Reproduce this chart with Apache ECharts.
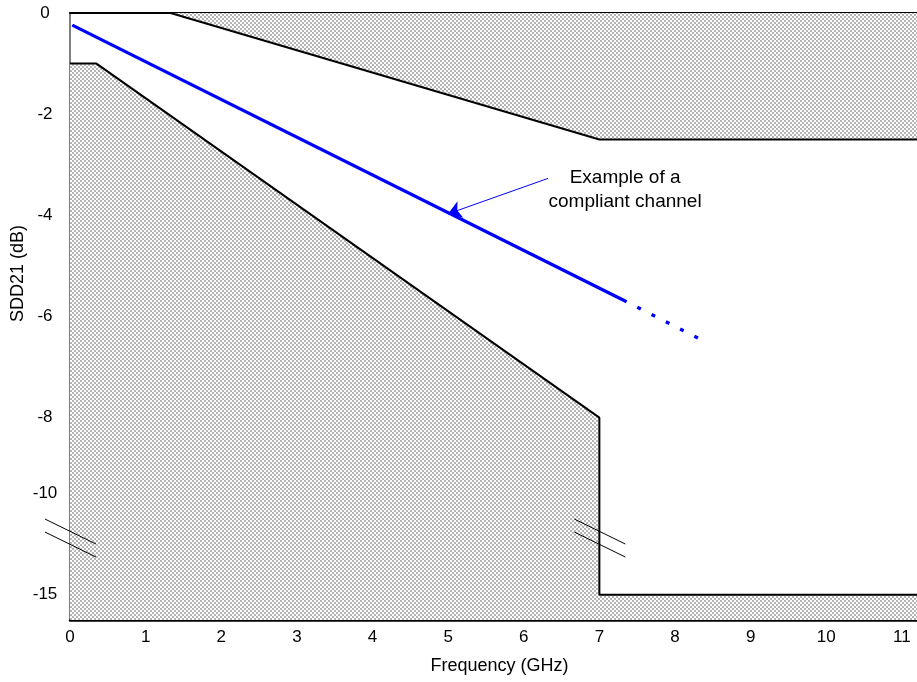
<!DOCTYPE html>
<html>
<head>
<meta charset="utf-8">
<script src="https://cdn.jsdelivr.net/npm/echarts@6/dist/echarts.min.js"></script>
<style>
  html, body { margin: 0; padding: 0; background: #fff; }
  #chart { width: 917px; height: 682px; }
</style>
</head>
<body>
<div id="chart"></div>
<script>
// frequency in GHz, SDD21 in dB
const upperMaskFreq = [0, 1.33, 7, 11.2];
const upperMaskDb = [0, 0, -2.5, -2.5];
const lowerMaskFreq = [0, 0.35, 7, 7, 11.2];
const lowerMaskDb = [-1, -1, -8, -15, -15];
const channelFreq = [0.03, 7.36];
const channelDb = [-0.24, -5.71];
const channelExtFreq = [7.36, 8.4];
const channelExtDb = [-5.71, -6.5];

const xTicks = [0, 1, 2, 3, 4, 5, 6, 7, 8, 9, 10, 11];
const yTicks = [0, -2, -4, -6, -8, -10, -15];

const arrowFrom = [6.32, -3.27];
const arrowTo = [5.0, -3.97];
const noteLines = ['Example of a', 'compliant channel'];
const noteAt = [7.34, -3.5];
const breakAtDb = -12.2;
const breakFreqs = [0, 7];

const FONT = 'Liberation Sans, Arial, sans-serif';

// broken y axis: linear down to -8 dB, compressed below
function toAxis(db) {
  if (db >= -8) return db;
  if (db >= -10) return -8 + (db + 8) * 0.75;
  return -9.5 + (db + 10) * 0.4;
}

function pairs(xs, ys) {
  return xs.map((x, i) => [x, toAxis(ys[i])]);
}

function hatch() {
  const c = document.createElement('canvas');
  c.width = 4; c.height = 4;
  const g = c.getContext('2d');
  g.fillStyle = '#ffffff';
  g.fillRect(0, 0, 4, 4);
  g.fillStyle = '#b4b4b4';
  g.fillRect(0, 0, 2, 2);
  g.fillRect(2, 2, 2, 2);
  return { image: c, repeat: 'repeat' };
}

const chart = echarts.init(document.getElementById('chart'), null, { renderer: 'canvas' });
const pattern = hatch();

chart.setOption({
  animation: false,
  backgroundColor: '#fff',
  grid: { left: 70, top: 13, right: 0, bottom: 62 },
  xAxis: [
    {
      type: 'value',
      min: 0,
      max: 11.2,
      name: 'Frequency (GHz)',
      nameLocation: 'middle',
      nameGap: 37,
      nameTextStyle: { fontFamily: FONT, fontSize: 18, color: '#000', padding: [0, 0, 0, 12] },
      axisLine: { onZero: false, lineStyle: { color: '#000', width: 2.5 } },
      axisTick: { show: false },
      splitLine: { show: false },
      axisLabel: {
        customValues: xTicks,
        margin: 9,
        fontFamily: FONT, fontSize: 17, color: '#000'
      }
    },
    {
      type: 'value',
      position: 'top',
      min: 0,
      max: 11.2,
      axisLine: { onZero: false, lineStyle: { color: '#000', width: 2 } },
      axisTick: { show: false },
      axisLabel: { show: false },
      splitLine: { show: false }
    }
  ],
  yAxis: {
    type: 'value',
    min: -12,
    max: 0,
    axisLine: { show: true, onZero: false, lineStyle: { color: '#555', width: 1.5 } },
    axisTick: { show: false },
    splitLine: { show: false },
    axisLabel: {
      customValues: yTicks.map(toAxis),
      align: 'center',
      margin: 25,
      fontFamily: FONT, fontSize: 17, color: '#000',
      formatter: (v) => {
        const t = yTicks.find(d => Math.abs(toAxis(d) - v) < 1e-6);
        return t === undefined ? '' : String(t);
      }
    }
  },
  series: [
    {
      type: 'line',
      data: pairs(upperMaskFreq, upperMaskDb),
      symbol: 'none',
      silent: true,
      lineStyle: { color: '#000', width: 2 },
      areaStyle: { color: pattern, opacity: 1, origin: 'end' },
      z: 1
    },
    {
      type: 'line',
      data: pairs(lowerMaskFreq, lowerMaskDb),
      symbol: 'none',
      silent: true,
      lineStyle: { color: '#000', width: 2 },
      areaStyle: { color: pattern, opacity: 1, origin: 'start' },
      z: 1
    },
    {
      type: 'line',
      data: pairs(channelFreq, channelDb),
      symbol: 'none',
      lineStyle: { color: '#0000ff', width: 3.3 },
      z: 3,
      markLine: {
        silent: true,
        symbol: ['none', 'arrow'],
        symbolSize: 13,
        lineStyle: { color: '#0000ff', width: 1, type: 'solid' },
        label: { show: false },
        data: [[
          { coord: [arrowFrom[0], toAxis(arrowFrom[1])] },
          { coord: [arrowTo[0], toAxis(arrowTo[1])] }
        ]]
      }
    },
    {
      type: 'line',
      data: pairs(channelExtFreq, channelExtDb),
      symbol: 'none',
      lineStyle: { color: '#0000ff', width: 3.3, type: [4, 12], dashOffset: -12 },
      z: 3
    }
  ]
});

// decorations placed from data coordinates
const graphics = [];
const notePx = chart.convertToPixel({ gridIndex: 0 }, [noteAt[0], toAxis(noteAt[1])]);
graphics.push({
  type: 'text',
  x: notePx[0], y: notePx[1], z: 10,
  style: {
    text: noteLines.join('\n'),
    align: 'center', verticalAlign: 'middle',
    fontFamily: FONT, fontSize: 19, lineHeight: 24, fill: '#000'
  }
});
breakFreqs.forEach(f => {
  const p = chart.convertToPixel({ gridIndex: 0 }, [f, toAxis(breakAtDb)]);
  [[-25, -19, 26, 6], [-25, -6, 26, 19]].forEach(d => {
    graphics.push({
      type: 'line', z: 10,
      shape: { x1: p[0] + d[0], y1: p[1] + d[1], x2: p[0] + d[2], y2: p[1] + d[3] },
      style: { stroke: '#000', lineWidth: 1 }
    });
  });
});
const yMid = chart.convertToPixel({ gridIndex: 0 }, [0, toAxis(-5.15)]);
graphics.push({
  type: 'text',
  x: 18, y: yMid[1], rotation: Math.PI / 2, z: 10,
  style: {
    text: 'SDD21 (dB)',
    align: 'center', verticalAlign: 'middle',
    fontFamily: FONT, fontSize: 18, fill: '#000'
  }
});
chart.setOption({ graphic: graphics });
</script>
</body>
</html>
